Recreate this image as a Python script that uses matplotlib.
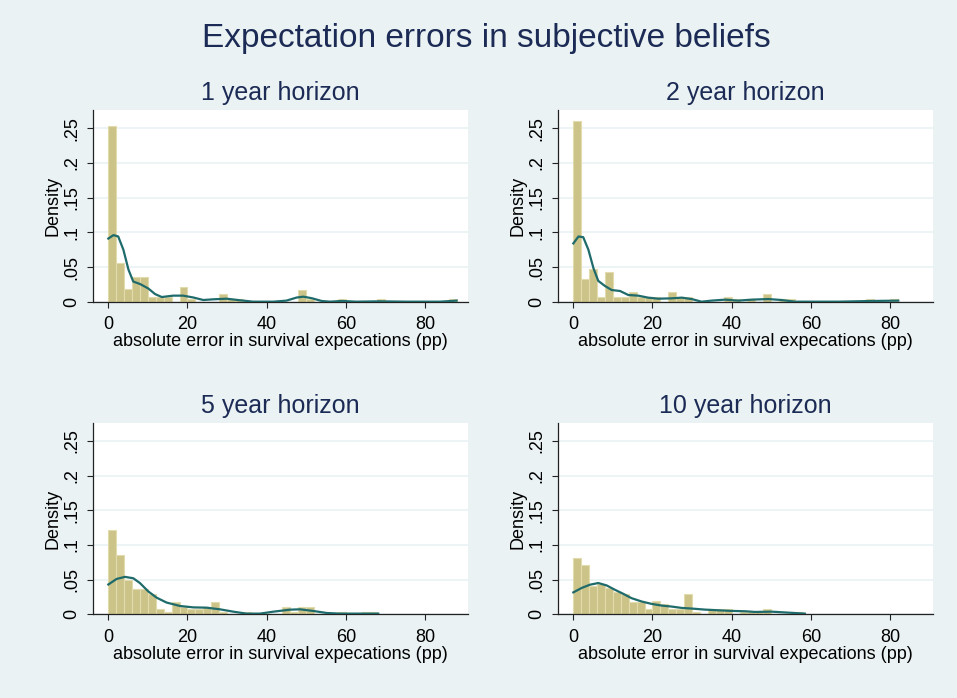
import numpy as np
import matplotlib.pyplot as plt

plt.rcParams['font.family'] = ['Liberation Sans', 'DejaVu Sans']

# histogram densities, bins of width 2 starting at 0
bin_width = 2
hist_1y = [0.253, 0.056, 0.018, 0.035, 0.035, 0.007, 0.007, 0.007, 0, 0.021,
           0.0035, 0, 0, 0, 0.0105, 0.0035, 0.0035, 0, 0, 0,
           0, 0, 0, 0, 0.0175, 0.0035, 0, 0, 0, 0.0035,
           0, 0, 0, 0, 0.0035, 0, 0, 0, 0, 0,
           0, 0, 0, 0.0035]
hist_2y = [0.26, 0.032, 0.047, 0.007, 0.043, 0.007, 0.007, 0.014, 0.007, 0.007,
           0.007, 0, 0.014, 0.007, 0.007, 0, 0, 0, 0, 0.007,
           0.0035, 0, 0.0035, 0, 0.0105, 0, 0.0035, 0.0035, 0, 0,
           0, 0, 0, 0, 0, 0, 0, 0.0035, 0, 0,
           0.0035]
hist_5y = [0.122, 0.0855, 0.050, 0.036, 0.036, 0.029, 0.007, 0.0035, 0.018, 0.0105,
           0.007, 0.007, 0.0105, 0.018, 0.0035, 0, 0, 0.0035, 0, 0,
           0, 0, 0.0105, 0.0035, 0.0105, 0.0105, 0, 0, 0, 0.0035,
           0, 0, 0.0035, 0.0035]
hist_10y = [0.0816, 0.0704, 0.041, 0.044, 0.038, 0.032, 0.030, 0.018, 0.018, 0.007,
            0.019, 0.015, 0.0073, 0.0073, 0.030, 0.0037, 0, 0.0073, 0.0073, 0.0073,
            0, 0.0037, 0.0037, 0.0037, 0.0073, 0, 0, 0, 0.0037]

# kernel density curves
kde_1y_x = [0, 1.3, 2.5, 3.8, 5.1, 6.3, 8, 10.1, 11.8, 13.5, 16.4, 18.9, 21.5, 24,
            26.5, 29.9, 33.3, 36.6, 41.7, 45, 47.6, 49.3, 51.4, 53.9, 56, 59,
            62.7, 68.6, 75.4, 83.8, 88]
kde_1y_y = [0.091, 0.096, 0.094, 0.075, 0.046, 0.029, 0.0255, 0.019, 0.011, 0.0067,
            0.0087, 0.0087, 0.006, 0.0024, 0.0034, 0.0043, 0.002, 0, 0, 0.0015,
            0.006, 0.0072, 0.005, 0.001, 0, 0.001, 0, 0.0005, 0, 0, 0.0015]
kde_2y_x = [0, 1.3, 2.5, 3.8, 5.1, 6.3, 8, 9.7, 11.8, 13.9, 16.4, 18.9, 21.5, 24.8,
            27.4, 29.9, 32.4, 34.9, 38.3, 41.7, 45, 49.3, 52.6, 56, 67, 75.4, 82.1]
kde_2y_y = [0.084, 0.094, 0.093, 0.075, 0.048, 0.030, 0.0226, 0.0168, 0.0154, 0.0096,
            0.0087, 0.0058, 0.0043, 0.0048, 0.0058, 0.0038, 0, 0.0015, 0.0029, 0.0015,
            0.0029, 0.0038, 0.0024, 0, 0, 0.001, 0.0015]
kde_5y_x = [0, 2.1, 4.2, 6.3, 8, 10.1, 12.2, 14.7, 18.1, 21.5, 24.8, 28.2, 31.6,
            34.9, 38.3, 41.7, 45.9, 48.4, 51.8, 55.2, 58.5, 62.7, 68.2]
kde_5y_y = [0.043, 0.051, 0.054, 0.052, 0.045, 0.033, 0.024, 0.017, 0.012, 0.010,
            0.0096, 0.0072, 0.0038, 0.001, 0.001, 0.0038, 0.0067, 0.0072, 0.0048,
            0.0019, 0.001, 0.001, 0.001]
kde_10y_x = [0, 2.1, 4.2, 6.3, 8.4, 10.5, 12.6, 14.7, 17.3, 19.8, 22.3, 24.8, 27.4,
             29.9, 33.2, 36.6, 40, 43.4, 45.9, 50.1, 54.3, 58.5]
kde_10y_y = [0.0316, 0.038, 0.0427, 0.0451, 0.0417, 0.0354, 0.0296, 0.0233, 0.0184,
             0.015, 0.0126, 0.0112, 0.0092, 0.0083, 0.0068, 0.0058, 0.0049, 0.0044,
             0.0034, 0.0038, 0.0024, 0.001]

titles = ["1 year horizon", "2 year horizon", "5 year horizon", "10 year horizon"]
xticks = [0, 20, 40, 60, 80]
yticks = [0, .05, .1, .15, .2, .25]
ytick_labels = ["0", ".05", ".1", ".15", ".2", ".25"]

BG = '#EAF2F3'
NAVY = '#1C2B55'
BAR = '#CCC388'
BAR_EDGE = '#E2DBAE'
LINE = '#1F6B6B'


def draw_panel(ax, heights, kx, ky, title):
    '''One histogram with its density curve, Stata s2color look.'''
    left = np.arange(len(heights)) * bin_width
    ax.bar(left, heights, width=bin_width, align='edge', color=BAR,
           edgecolor=BAR_EDGE, linewidth=0.8, zorder=2)
    ax.plot(kx, ky, color=LINE, lw=1.6, zorder=3)
    ax.set_xlim(-3.94, 90.8)
    ax.set_ylim(0, 0.2764)
    ax.set_xticks(xticks)
    ax.set_yticks(yticks)
    ax.set_yticklabels(ytick_labels, rotation=90, va='center')
    ax.grid(axis='y', color=BG, lw=1.2, zorder=0)
    ax.set_axisbelow(True)
    for s in ['top', 'right']:
        ax.spines[s].set_visible(False)
    for s in ['left', 'bottom']:
        ax.spines[s].set_color('#222222')
        ax.spines[s].set_linewidth(0.9)
    ax.tick_params(axis='both', labelsize=13, length=4.5, width=0.8,
                   color='#222222')
    ax.tick_params(axis='x', pad=6)
    ax.tick_params(axis='y', pad=4.5)
    ax.set_title(title, fontsize=18, color=NAVY, pad=7)
    ax.set_xlabel('absolute error in survival expecations (pp)', fontsize=13,
                  labelpad=0)
    ax.set_ylabel('Density', fontsize=13, labelpad=1.5)


fig = plt.figure(figsize=(9.57, 6.98), dpi=100, facecolor=BG)
positions = [[0.0969, 0.5678, 0.3918, 0.2746],
             [0.5828, 0.5678, 0.3918, 0.2746],
             [0.0969, 0.1199, 0.3918, 0.2746],
             [0.5828, 0.1199, 0.3918, 0.2746]]
data = [(hist_1y, kde_1y_x, kde_1y_y), (hist_2y, kde_2y_x, kde_2y_y),
        (hist_5y, kde_5y_x, kde_5y_y), (hist_10y, kde_10y_x, kde_10y_y)]

for pos, (h, kx, ky), t in zip(positions, data, titles):
    ax = fig.add_axes(pos)
    draw_panel(ax, h, kx, ky, t)

fig.text(0.5084, 1 - 39 / 698, 'Expectation errors in subjective beliefs',
         ha='center', va='center', fontsize=24, color=NAVY)

fig.savefig('out.png', dpi=100, facecolor=BG)
